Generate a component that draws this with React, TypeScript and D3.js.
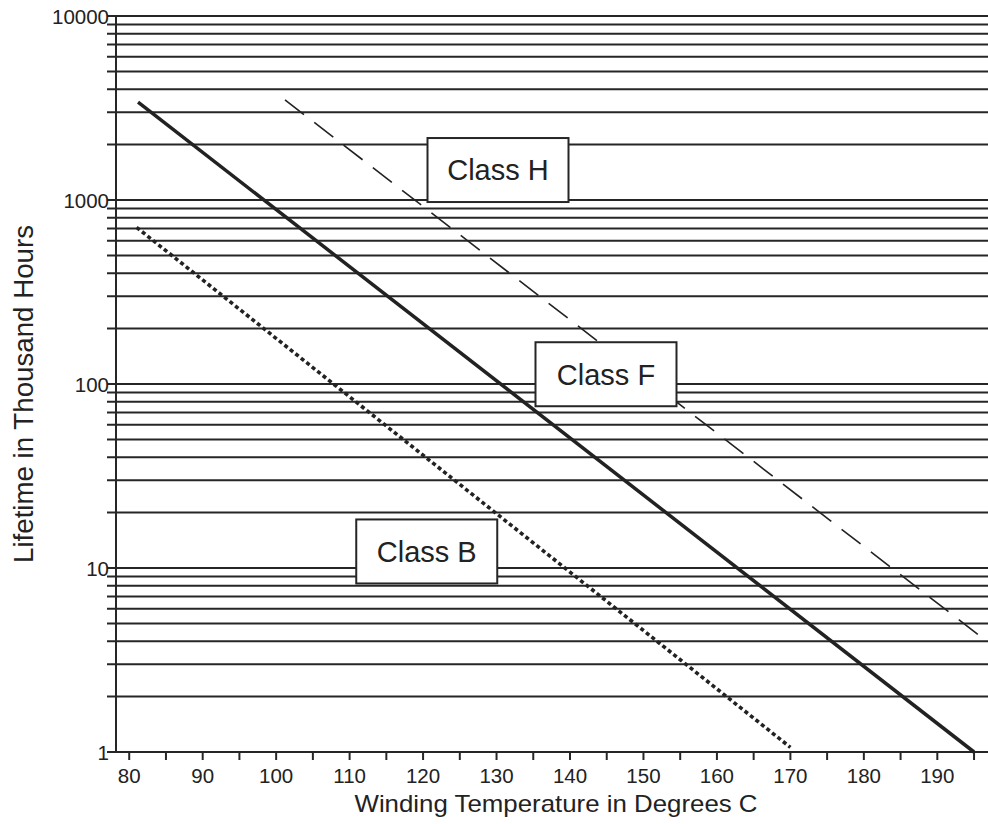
import React from "react";
import * as d3 from "d3";

// ---- data ----
const TEMP_TICKS = [80, 85, 90, 95, 100, 105, 110, 115, 120, 125, 130, 135, 140, 145, 150, 155, 160, 165, 170, 175, 180, 185, 190, 195];
const TEMP_LABELS = [80, 90, 100, 110, 120, 130, 140, 150, 160, 170, 180, 190];
const LIFE_LABELS = [1, 10, 100, 1000, 10000];
const LIFE_GRID = [
  1, 2, 3, 4, 5, 6, 7, 8, 9,
  10, 20, 30, 40, 50, 60, 70, 80, 90,
  100, 200, 300, 400, 500, 600, 700, 800, 900,
  1000, 2000, 3000, 4000, 5000, 6000, 7000, 8000, 9000,
  10000,
];
const CLASS_B = [{ temp: 81, life: 710 }, { temp: 170, life: 1.06 }];
const CLASS_F = [{ temp: 81.2, life: 3400 }, { temp: 195, life: 1 }];
const CLASS_H = [{ temp: 101.2, life: 3500 }, { temp: 196.9, life: 3.95 }];
const CLASS_LABELS = [
  { text: "Class H", temp: 130.2, life: 1455 },
  { text: "Class F", temp: 144.9, life: 113 },
  { text: "Class B", temp: 120.5, life: 12.3 },
];

const W = 988;
const H = 824;
const FONT = "'Liberation Sans', Arial, Helvetica, sans-serif";
const INK = "#262626";

export default function App() {
  const x = d3.scaleLinear().domain([78.2, 196.9]).range([116, 988]);
  const y = d3.scaleLog().domain([1, 10000]).range([752, 16]);
  const line = d3
    .line<{ temp: number; life: number }>()
    .x((d) => x(d.temp))
    .y((d) => y(d.life));

  const axisX = x.range()[0];
  const bottom = y.range()[0];
  const boxW = 141;
  const boxH = 64;

  return (
    <svg
      width={W}
      height={H}
      viewBox={`0 0 ${W} ${H}`}
      style={{ position: "absolute", left: 0, top: 0, background: "#fff" }}
      fontFamily={FONT}
    >
      <rect x={0} y={0} width={W} height={H} fill="#fff" />
      {/* horizontal log grid */}
      {LIFE_GRID.map((v) => (
        <line
          key={"g" + v}
          x1={axisX - 9}
          x2={W}
          y1={y(v)}
          y2={y(v)}
          stroke={INK}
          strokeWidth={2}
        />
      ))}
      {/* y axis */}
      <line x1={axisX} x2={axisX} y1={y(10000)} y2={bottom} stroke={INK} strokeWidth={2} />
      {/* x ticks */}
      {TEMP_TICKS.map((t) => (
        <line key={"t" + t} x1={x(t)} x2={x(t)} y1={bottom} y2={bottom + 8} stroke={INK} strokeWidth={2} />
      ))}
      {TEMP_LABELS.map((t) => (
        <text key={"tl" + t} x={x(t)} y={783} textAnchor="middle" fontSize={20.5} fill="#222">
          {t}
        </text>
      ))}
      {LIFE_LABELS.map((v) => (
        <text
          key={"yl" + v}
          x={axisX - 7}
          y={y(v) + 1}
          dy="0.36em"
          textAnchor="end"
          fontSize={20.5}
          fill="#222"
        >
          {v}
        </text>
      ))}
      {/* series */}
      <path d={line(CLASS_H) || ""} fill="none" stroke="#222" strokeWidth={1.6} strokeDasharray="24 13" />
      <path d={line(CLASS_F) || ""} fill="none" stroke="#222" strokeWidth={3.5} />
      <path d={line(CLASS_B) || ""} fill="none" stroke="#222" strokeWidth={3.6} strokeDasharray="4 3" />
      {/* class labels */}
      {CLASS_LABELS.map((l) => {
        const cx = x(l.temp);
        const cy = y(l.life);
        return (
          <g key={l.text}>
            <rect
              x={cx - boxW / 2}
              y={cy - boxH / 2}
              width={boxW}
              height={boxH}
              fill="#fff"
              stroke={INK}
              strokeWidth={2}
            />
            <text x={cx} y={cy} dy="0.36em" textAnchor="middle" fontSize={29} fill="#222">
              {l.text}
            </text>
          </g>
        );
      })}
      {/* axis titles */}
      <text
        x={556}
        y={812}
        textAnchor="middle"
        fontSize={24}
        fill="#222"
        textLength={403}
        lengthAdjust="spacingAndGlyphs"
      >
        Winding Temperature in Degrees C
      </text>
      <text
        transform={`translate(33, 394) rotate(-90)`}
        textAnchor="middle"
        fontSize={27}
        fill="#222"
        textLength={338}
        lengthAdjust="spacingAndGlyphs"
      >
        Lifetime in Thousand Hours
      </text>
    </svg>
  );
}
